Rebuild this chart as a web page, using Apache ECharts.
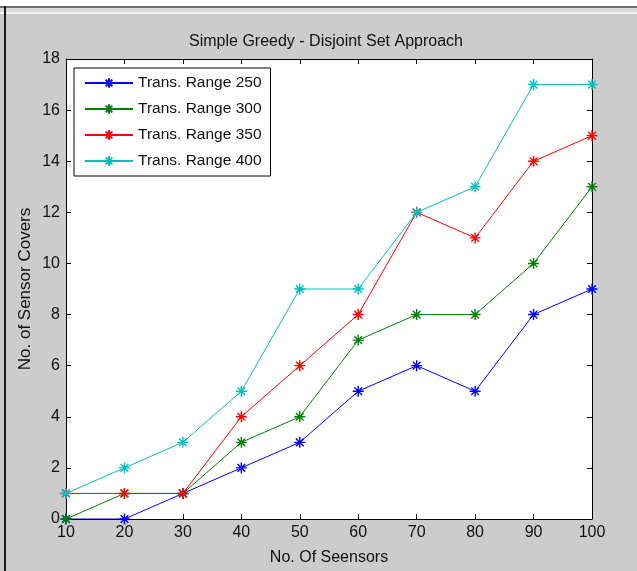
<!DOCTYPE html>
<html>
<head>
<meta charset="utf-8">
<script src="https://cdn.jsdelivr.net/npm/echarts@6/dist/echarts.min.js"></script>
<style>
  html, body { margin: 0; padding: 0; background: #fff; }
  #main { width: 637px; height: 571px; }
</style>
</head>
<body>
<div id="main"></div>
<script>
// data
const sensors = [10, 20, 30, 40, 50, 60, 70, 80, 90, 100]
const range250 = [0, 0, 1, 2, 3, 5, 6, 5, 8, 9]
const range300 = [0, 1, 1, 3, 4, 7, 8, 8, 10, 13]
const range350 = [1, 1, 1, 4, 6, 8, 12, 11, 14, 15]
const range400 = [1, 2, 3, 5, 9, 9, 12, 13, 17, 17]
const seriesNames = ['Trans. Range 250', 'Trans. Range 300', 'Trans. Range 350', 'Trans. Range 400']
const seriesColors = ['#0000ff', '#008000', '#ff0000', '#00bfbf']

const FONT = '"Liberation Sans", Arial, sans-serif'
// MATLAB style asterisk marker
const STAR = 'path://M5 0L5 10M0 5L10 5M1.5 1.5L8.5 8.5M8.5 1.5L1.5 8.5'

function pairs(ys) {
    let out = []
    for (let i = 0; i < sensors.length; i++) {
        out.push([sensors[i], ys[i]])
    }
    return out
}

function makeSeries(name, ys, color) {
    return {
        name: name,
        type: 'line',
        data: pairs(ys),
        symbol: STAR,
        symbolSize: 11,
        showAllSymbol: true,
        lineStyle: { color: color, width: 1 },
        itemStyle: { color: color, borderColor: color, borderWidth: 1.4 },
        emphasis: { disabled: true },
        animation: false
    }
}

const axisLine = { show: true, onZero: false, lineStyle: { color: '#000', width: 1 } }
const axisTick = { show: true, inside: true, length: 5, lineStyle: { color: '#000' } }
const axisLabel = { color: '#111', fontFamily: FONT, fontSize: 16 }

let chart = echarts.init(document.getElementById('main'), null, { renderer: 'canvas' })
chart.setOption({
    backgroundColor: '#cccccc',
    animation: false,
    title: {
        text: 'Simple Greedy - Disjoint Set Approach',
        left: 321, top: 29, textAlign: 'center',
        textStyle: { fontFamily: FONT, fontSize: 16, fontWeight: 'normal', color: '#111' }
    },
    graphic: [
        { type: 'rect', shape: { x: 0, y: 0, width: 637, height: 6 }, style: { fill: '#ffffff' }, silent: true },
        { type: 'rect', shape: { x: 0, y: 6, width: 637, height: 2 }, style: { fill: '#6e6e6e' }, silent: true },
        { type: 'rect', shape: { x: 0, y: 8, width: 637, height: 4 }, style: { fill: '#dadada' }, silent: true },
        { type: 'rect', shape: { x: 0, y: 12, width: 637, height: 2 }, style: { fill: '#f4f4f4' }, silent: true },
        { type: 'rect', shape: { x: 4, y: 6, width: 2, height: 565 }, style: { fill: '#1a1a1a' }, silent: true }
    ],
    legend: {
        orient: 'vertical',
        left: 74, top: 68,
        data: seriesNames,
        backgroundColor: '#ffffff',
        borderColor: '#000',
        borderWidth: 1,
        borderRadius: 0,
        padding: [7, 9, 7, 10],
        itemWidth: 48,
        itemHeight: 12,
        itemGap: 10,
        selectedMode: false,
        textStyle: { fontFamily: FONT, fontSize: 15.5, color: '#111', padding: [0, 0, 0, 0] }
    },
    grid: { left: 66, right: 45, top: 59, bottom: 51, show: true, backgroundColor: '#ffffff', borderWidth: 0 },
    xAxis: [
        {
            type: 'value', min: 10, max: 100, interval: 10,
            name: 'No. Of Seensors', nameLocation: 'middle', nameGap: 31,
            nameMoveOverlap: false,
            nameTextStyle: { fontFamily: FONT, fontSize: 16, color: '#111' },
            axisLine: axisLine, axisTick: axisTick,
            axisLabel: Object.assign({ margin: 6 }, axisLabel),
            splitLine: { show: false }
        },
        {
            type: 'value', position: 'top', min: 10, max: 100, interval: 10,
            axisLine: axisLine, axisTick: axisTick, axisLabel: { show: false },
            splitLine: { show: false }
        }
    ],
    yAxis: [
        {
            type: 'value', min: 0, max: 18, interval: 2,
            name: 'No. of Sensor Covers', nameLocation: 'middle', nameGap: 32,
            nameMoveOverlap: false,
            nameTextStyle: { fontFamily: FONT, fontSize: 17, color: '#111' },
            axisLine: axisLine, axisTick: axisTick,
            axisLabel: Object.assign({ margin: 6 }, axisLabel),
            splitLine: { show: false }
        },
        {
            type: 'value', position: 'right', min: 0, max: 18, interval: 2,
            axisLine: axisLine, axisTick: axisTick, axisLabel: { show: false },
            splitLine: { show: false }
        }
    ],
    series: [
        makeSeries(seriesNames[0], range250, seriesColors[0]),
        makeSeries(seriesNames[1], range300, seriesColors[1]),
        makeSeries(seriesNames[2], range350, seriesColors[2]),
        makeSeries(seriesNames[3], range400, seriesColors[3])
    ]
})
</script>
</body>
</html>
